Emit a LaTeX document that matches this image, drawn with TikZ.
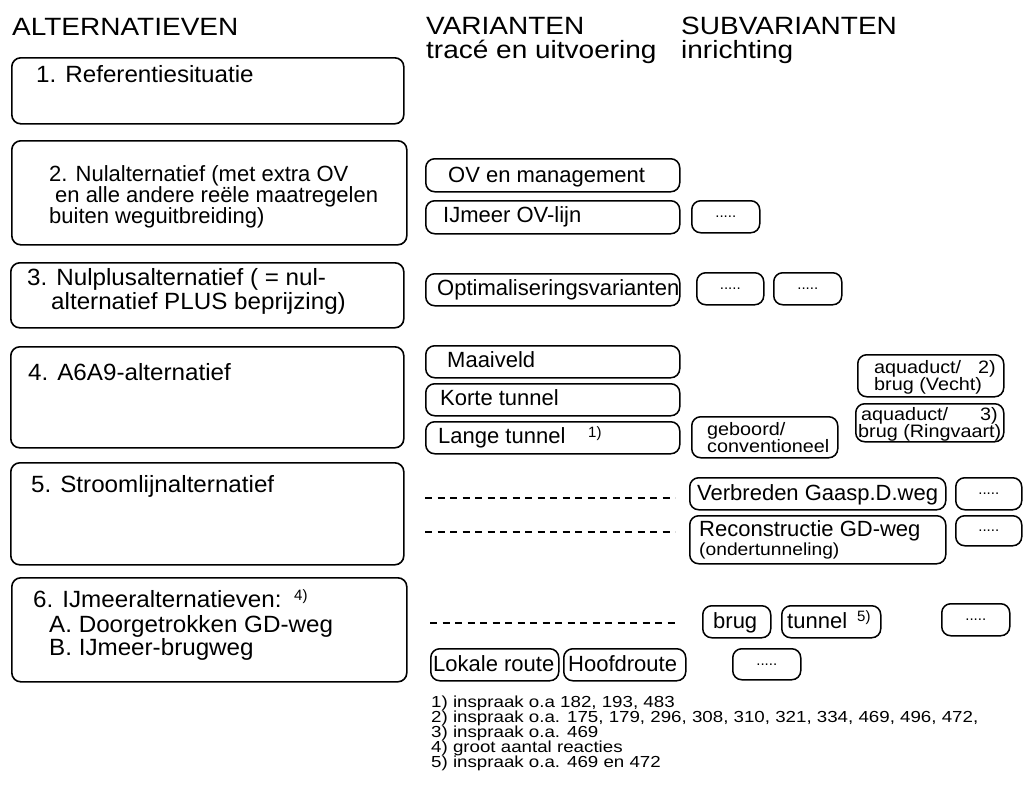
\documentclass[tikz,border=0pt]{standalone}
\usepackage{fontspec}
\setmainfont{Liberation Sans}
\newfontfamily\hdfont{Liberation Sans}[FakeStretch=1.12]
\newfontfamily\mtfont{Liberation Sans}[FakeStretch=1.03]
\newfontfamily\nfont{Liberation Sans}[FakeStretch=1.1]
\newfontfamily\fnfont{Liberation Sans}[FakeStretch=1.17]
\tikzset{
  bigbox/.style={draw, line width=1.6pt, rounded corners=9pt, anchor=north west, inner sep=0pt},
  smallbox/.style={draw, line width=1.5pt, rounded corners=9pt, anchor=north west, inner sep=0pt},
  hd/.style={anchor=base west, inner sep=0pt, font=\hdfont\fontsize{25}{25}\selectfont},
  mt/.style={anchor=base west, inner sep=0pt, font=\mtfont\fontsize{23.5}{23.5}\selectfont},
  mtb/.style={anchor=base west, inner sep=0pt, font=\fontsize{22}{22}\selectfont},
  st/.style={anchor=base west, inner sep=0pt, font=\fontsize{22}{22}\selectfont},
  tt/.style={anchor=base west, inner sep=0pt, font=\nfont\fontsize{18}{18}\selectfont},
  ut/.style={anchor=base west, inner sep=0pt, font=\nfont\fontsize{17.5}{17.5}\selectfont},
  sup/.style={anchor=base west, inner sep=0pt, font=\fontsize{15}{15}\selectfont},
  fn/.style={anchor=base west, inner sep=0pt, font=\fnfont\fontsize{16}{15}\selectfont},
  dotfill/.style={inner sep=0pt, font=\fontsize{15}{15}\selectfont},
  dashline/.style={line width=1.4pt, dash pattern=on 7pt off 5.5pt},
}
\begin{document}
\begin{tikzpicture}[x=1pt, y=-1pt]
\useasboundingbox (0,0) rectangle (1026,798);

% headers
\node[hd] (hAlt) at (12,35) {ALTERNATIEVEN};
\node[hd] (hVar) at (426,34) {VARIANTEN};
\node[hd] (hVar2) at (426,58) {tracé en uitvoering};
\node[hd] (hSub) at (681,34) {SUBVARIANTEN};
\node[hd] (hSub2) at (681,58) {inrichting};

% alternatives
\node[bigbox, minimum width=392pt, minimum height=66pt] (b1) at (11,57) {};
\node[mt] (b1t) at (36,82) {1. Referentiesituatie};

\node[bigbox, minimum width=395pt, minimum height=104pt] (b2) at (11,140) {};
\node[mtb] (b2t1) at (49,181) {2. Nulalternatief (met extra OV};
\node[mtb] (b2t2) at (55,202) {en alle andere reële maatregelen};
\node[mtb] (b2t3) at (49,223) {buiten weguitbreiding)};

\node[bigbox, minimum width=393pt, minimum height=65pt] (b3) at (10,262) {};
\node[mt] (b3t1) at (27,285) {3. Nulplusalternatief ( = nul-};
\node[mt] (b3t2) at (51,309) {alternatief PLUS beprijzing)};

\node[bigbox, minimum width=393pt, minimum height=101pt] (b4) at (10,346) {};
\node[mt] (b4t) at (28,380) {4. A6A9-alternatief};

\node[bigbox, minimum width=393pt, minimum height=102pt] (b5) at (10,462) {};
\node[mt] (b5t) at (31,492) {5. Stroomlijnalternatief};

\node[bigbox, minimum width=395pt, minimum height=104pt] (b6) at (11,577) {};
\node[mt] (b6t1) at (33,607) {6. IJmeeralternatieven:};
\node[sup] (b6s) at (294,600) {4)};
\node[mt] (b6t2) at (49,632) {A. Doorgetrokken GD-weg};
\node[mt] (b6t3) at (49,655) {B. IJmeer-brugweg};

% variants row 2
\node[smallbox, minimum width=254pt, minimum height=33pt] (v1) at (425,158) {};
\node[st] (v1t) at (448,182) {OV en management};
\node[smallbox, minimum width=254pt, minimum height=33pt] (v2) at (425,200) {};
\node[st] (v2t) at (443,222) {IJmeer OV-lijn};
\node[smallbox, minimum width=68pt, minimum height=32pt] (s2) at (691,200) {};
\node[dotfill] (s2d) at (s2.center) {.....};

% row 3
\node[smallbox, minimum width=254pt, minimum height=32pt] (v3) at (425,273) {};
\node[st] (v3t) at (437,295) {Optimaliseringsvarianten};
\node[smallbox, minimum width=67pt, minimum height=32pt] (s3a) at (696,272) {};
\node[dotfill] (s3ad) at (s3a.center) {.....};
\node[smallbox, minimum width=68pt, minimum height=32pt] (s3b) at (773,272) {};
\node[dotfill] (s3bd) at (s3b.center) {.....};

% row 4
\node[smallbox, minimum width=254pt, minimum height=32pt] (v4a) at (425,345) {};
\node[st] (v4at) at (447,367) {Maaiveld};
\node[smallbox, minimum width=254pt, minimum height=32pt] (v4b) at (425,383) {};
\node[st] (v4bt) at (440,405) {Korte tunnel};
\node[smallbox, minimum width=254pt, minimum height=32pt] (v4c) at (425,421) {};
\node[st] (v4ct) at (438,443) {Lange tunnel};
\node[sup] (v4cs) at (588,437) {1)};

\node[smallbox, minimum width=146pt, minimum height=41pt] (geb) at (691,416) {};
\node[tt] (gebt1) at (707,435) {geboord/};
\node[tt] (gebt2) at (707,452) {conventioneel};

\node[smallbox, minimum width=146pt, minimum height=42pt] (aq1) at (857,354) {};
\node[tt] (aq1t1) at (874,373) {aquaduct/};
\node[tt] (aq1s) at (978,373) {2)};
\node[tt] (aq1t2) at (874,390) {brug (Vecht)};

\node[smallbox, minimum width=148pt, minimum height=38pt] (aq2) at (855,403) {};
\node[tt] (aq2t1) at (861,420) {aquaduct/};
\node[tt] (aq2s) at (980,420) {3)};
\node[tt] (aq2t2) at (858,437) {brug (Ringvaart)};

% row 5
\coordinate (d1a) at (425,498);
\coordinate (d1b) at (675,498);
\draw[dashline] (d1a) -- (d1b);
\coordinate (d2a) at (425,532);
\coordinate (d2b) at (675,532);
\draw[dashline] (d2a) -- (d2b);

\node[smallbox, minimum width=256pt, minimum height=32pt] (vb) at (689,477) {};
\node[st] (vbt) at (697,500) {Verbreden Gaasp.D.weg};
\node[smallbox, minimum width=66pt, minimum height=32pt] (s5a) at (955,477) {};
\node[dotfill] (s5ad) at (s5a.center) {.....};

\node[smallbox, minimum width=256pt, minimum height=48pt] (rc) at (689,515) {};
\node[st] (rct1) at (699,536) {Reconstructie GD-weg};
\node[ut] (rct2) at (699,555) {(ondertunneling)};
\node[smallbox, minimum width=66pt, minimum height=30pt] (s5b) at (955,515) {};
\node[dotfill] (s5bd) at (s5b.center) {.....};

% row 6
\coordinate (d3a) at (430,623);
\coordinate (d3b) at (677,623);
\draw[dashline] (d3a) -- (d3b);

\node[smallbox, minimum width=68pt, minimum height=32pt] (br) at (702,605) {};
\node[st] (brt) at (713,628) {brug};
\node[smallbox, minimum width=99pt, minimum height=32pt] (tu) at (781,605) {};
\node[st] (tut) at (787,628) {tunnel};
\node[sup] (tus) at (857,621) {5)};
\node[smallbox, minimum width=68pt, minimum height=32pt] (s6a) at (941,603) {};
\node[dotfill] (s6ad) at (s6a.center) {.....};

\node[smallbox, minimum width=128pt, minimum height=32pt] (lr) at (430,648) {};
\node[st] (lrt) at (433,671) {Lokale route};
\node[smallbox, minimum width=122pt, minimum height=32pt] (hr) at (563,648) {};
\node[st] (hrt) at (568,671) {Hoofdroute};
\node[smallbox, minimum width=68pt, minimum height=31pt] (s6b) at (732,648) {};
\node[dotfill] (s6bd) at (s6b.center) {.....};

% footnotes
\node[fn] (f1) at (431,707) {1) inspraak o.a 182, 193, 483};
\node[fn] (f2) at (431,722) {2) inspraak o.a. 175, 179, 296, 308, 310, 321, 334, 469, 496, 472,};
\node[fn] (f3) at (431,737) {3) inspraak o.a. 469};
\node[fn] (f4) at (431,752) {4) groot aantal reacties};
\node[fn] (f5) at (431,767) {5) inspraak o.a. 469 en 472};
\end{tikzpicture}
\end{document}
